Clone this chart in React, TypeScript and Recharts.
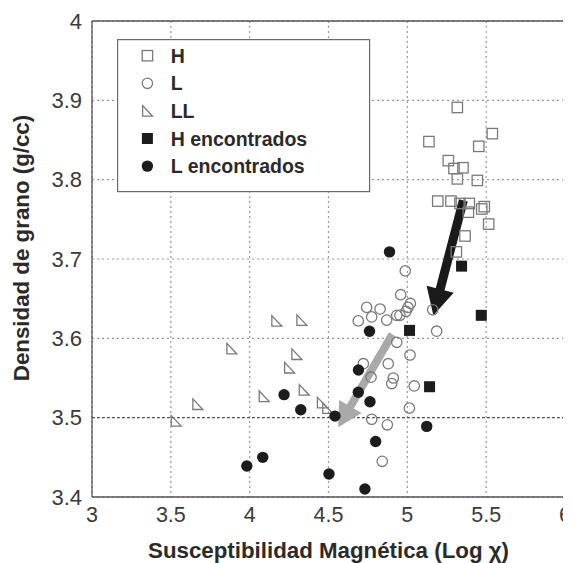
import React from 'react';
import { ScatterChart, Scatter, XAxis, YAxis, CartesianGrid, ReferenceLine, Legend } from 'recharts';

const FONT = '"Liberation Sans", Arial, Helvetica, sans-serif';

const seriesNames = ['H', 'L', 'LL', 'H encontrados', 'L encontrados'];
const xTitle = 'Susceptibilidad Magnética (Log χ)';
const yTitle = 'Densidad de grano (g/cc)';

const xTicks = [3, 3.5, 4, 4.5, 5, 5.5, 6];
const yTicks = [3.4, 3.5, 3.6, 3.7, 3.8, 3.9, 4];
const xMinorTicks = [3.1, 3.2, 3.3, 3.4, 3.5, 3.6, 3.7, 3.8, 3.9, 4.0, 4.1, 4.2, 4.3, 4.4, 4.5, 4.6, 4.7, 4.8, 4.9, 5.0, 5.1, 5.2, 5.3, 5.4, 5.5, 5.6, 5.7, 5.8, 5.9];
const yMinorTicks = [3.42, 3.44, 3.46, 3.48, 3.5, 3.52, 3.54, 3.56, 3.58, 3.6, 3.62, 3.64, 3.66, 3.68, 3.7, 3.72, 3.74, 3.76, 3.78, 3.8, 3.82, 3.84, 3.86, 3.88, 3.9, 3.92, 3.94, 3.96, 3.98];

const hPoints = [
  { x: 5.317, y: 3.891 }, { x: 5.539, y: 3.858 }, { x: 5.137, y: 3.848 }, { x: 5.453, y: 3.842 },
  { x: 5.26, y: 3.824 }, { x: 5.296, y: 3.814 }, { x: 5.353, y: 3.815 }, { x: 5.317, y: 3.801 },
  { x: 5.444, y: 3.799 }, { x: 5.193, y: 3.773 }, { x: 5.277, y: 3.773 }, { x: 5.334, y: 3.77 },
  { x: 5.393, y: 3.77 }, { x: 5.387, y: 3.759 }, { x: 5.472, y: 3.763 }, { x: 5.488, y: 3.766 },
  { x: 5.516, y: 3.744 }, { x: 5.366, y: 3.729 }, { x: 5.311, y: 3.709 },
];

const lPoints = [
  { x: 4.987, y: 3.685 }, { x: 4.958, y: 3.655 }, { x: 5.019, y: 3.644 }, { x: 5.004, y: 3.639 },
  { x: 4.992, y: 3.634 }, { x: 4.742, y: 3.639 }, { x: 4.827, y: 3.637 }, { x: 4.774, y: 3.627 },
  { x: 4.689, y: 3.622 }, { x: 4.869, y: 3.623 }, { x: 4.933, y: 3.629 }, { x: 4.953, y: 3.629 },
  { x: 5.161, y: 3.636 }, { x: 5.186, y: 3.609 }, { x: 4.933, y: 3.595 }, { x: 5.017, y: 3.579 },
  { x: 4.879, y: 3.568 }, { x: 4.721, y: 3.568 }, { x: 4.911, y: 3.55 }, { x: 4.901, y: 3.543 },
  { x: 5.044, y: 3.54 }, { x: 4.774, y: 3.498 }, { x: 4.873, y: 3.491 }, { x: 4.841, y: 3.445 },
  { x: 5.013, y: 3.512 }, { x: 4.77, y: 3.551 },
];

const llPoints = [
  { x: 3.533, y: 3.496 }, { x: 3.67, y: 3.517 }, { x: 3.886, y: 3.587 }, { x: 4.091, y: 3.527 },
  { x: 4.171, y: 3.622 }, { x: 4.33, y: 3.623 }, { x: 4.298, y: 3.58 }, { x: 4.252, y: 3.563 },
  { x: 4.345, y: 3.535 }, { x: 4.46, y: 3.519 }, { x: 4.494, y: 3.512 },
];

const hFoundPoints = [
  { x: 5.344, y: 3.691 }, { x: 5.469, y: 3.629 }, { x: 5.014, y: 3.61 }, { x: 5.141, y: 3.539 },
];

const lFoundPoints = [
  { x: 4.887, y: 3.709 }, { x: 4.76, y: 3.609 }, { x: 4.69, y: 3.56 }, { x: 4.689, y: 3.532 },
  { x: 4.763, y: 3.52 }, { x: 4.218, y: 3.529 }, { x: 4.324, y: 3.51 }, { x: 4.541, y: 3.502 },
  { x: 4.799, y: 3.47 }, { x: 5.123, y: 3.489 }, { x: 3.982, y: 3.439 }, { x: 4.083, y: 3.45 },
  { x: 4.503, y: 3.429 }, { x: 4.731, y: 3.41 },
];

const blackArrow = [{ x: 5.355, y: 3.774 }, { x: 5.165, y: 3.629 }];
const grayArrow = [{ x: 4.905, y: 3.605 }, { x: 4.562, y: 3.488 }];

const OPEN = '#7a7a7a';
const FILLED = '#1c1c1c';

const drawMarker = (kind: string, cx: number, cy: number) => {
  switch (kind) {
    case 'H':
      return <rect x={cx - 5.2} y={cy - 5.2} width={10.4} height={10.4} fill="none" stroke={OPEN} strokeWidth={1.3} />;
    case 'L':
      return <circle cx={cx} cy={cy} r={5.2} fill="none" stroke={OPEN} strokeWidth={1.3} />;
    case 'LL':
      return (
        <polygon
          points={`${cx - 4.8},${cy - 5.3} ${cx - 4.8},${cy + 5.3} ${cx + 5.2},${cy + 5.3}`}
          fill="none"
          stroke={OPEN}
          strokeWidth={1.3}
          strokeLinejoin="miter"
        />
      );
    case 'H encontrados':
      return <rect x={cx - 5.5} y={cy - 5.5} width={11} height={11} fill={FILLED} />;
    default:
      return <circle cx={cx} cy={cy} r={5.7} fill={FILLED} />;
  }
};

const shapeFor = (kind: string) => (props: any) => {
  const { cx, cy } = props;
  if (cx == null || cy == null) return <g />;
  return drawMarker(kind, cx, cy);
};

const makeArrow = (color: string, shaft: number, headLen: number, headHalf: number) => (props: any) => {
  const { x1, y1, x2, y2 } = props;
  if ([x1, y1, x2, y2].some((v) => v == null || isNaN(v))) return <g />;
  const dx = x2 - x1;
  const dy = y2 - y1;
  const len = Math.hypot(dx, dy);
  const ux = dx / len;
  const uy = dy / len;
  const px = -uy;
  const py = ux;
  const bx = x2 - ux * headLen;
  const by = y2 - uy * headLen;
  return (
    <g>
      <line x1={x1} y1={y1} x2={bx + ux * 2} y2={by + uy * 2} stroke={color} strokeWidth={shaft} />
      <polygon
        points={`${x2},${y2} ${bx + px * headHalf},${by + py * headHalf} ${bx - px * headHalf},${by - py * headHalf}`}
        fill={color}
      />
    </g>
  );
};

const renderLegend = () => (
  <svg width={254} height={154} style={{ display: 'block' }}>
    <rect x={0.6} y={0.6} width={252} height={152} fill="#ffffff" stroke="#6a6a6a" strokeWidth={1.2} />
    {seriesNames.map((name, i) => {
      const cy = 16.7 + i * 27.6;
      return (
        <g key={`leg-${i}`}>
          {drawMarker(name, 30.4, cy)}
          <text x={53.7} y={cy} dy="0.36em" fontFamily={FONT} fontWeight="bold" fontSize={19.5} fill="#2a2a2a">
            {name}
          </text>
        </g>
      );
    })}
  </svg>
);

const seriesData = [hPoints, lPoints, llPoints, hFoundPoints, lFoundPoints];

export default function App() {
  return (
    <div>
      <style>{'html,body{overflow:hidden;}'}</style>
      <ScatterChart
        width={563}
        height={555}
        margin={{ top: 13, right: 6, left: 0, bottom: 0 }}
        style={{ fontFamily: FONT }}
      >
        <CartesianGrid stroke="#9a9a9a" strokeDasharray="2 3" strokeWidth={1.2} />
        <XAxis
          type="number"
          dataKey="x"
          domain={[3, 6]}
          ticks={xTicks}
          interval={0}
          allowDataOverflow
          height={66}
          axisLine={{ stroke: '#555', strokeWidth: 1.3 }}
          tickLine={false}
          tickSize={6}
          tickMargin={4}
          tick={{ fontSize: 21.5, fill: '#3a3a3a', fontFamily: FONT }}
          label={{
            value: xTitle,
            position: 'insideBottom',
            offset: 5,
            fontSize: 22.3,
            fontWeight: 'bold',
            fill: '#2a2a2a',
            fontFamily: FONT,
          }}
        />
        <XAxis
          xAxisId="bm"
          type="number"
          dataKey="x"
          orientation="bottom"
          mirror
          domain={[3, 6]}
          ticks={xMinorTicks}
          interval={0}
          allowDataOverflow
          axisLine={false}
          tickLine={{ stroke: '#555', strokeWidth: 1 }}
          tickSize={4}
          tick={false}
        />
        <XAxis
          xAxisId="top"
          type="number"
          dataKey="x"
          orientation="top"
          mirror
          domain={[3, 6]}
          ticks={xMinorTicks}
          interval={0}
          allowDataOverflow
          axisLine={{ stroke: '#555', strokeWidth: 1.3 }}
          tickLine={{ stroke: '#555', strokeWidth: 1 }}
          tickSize={4}
          tick={false}
        />
        <YAxis
          type="number"
          dataKey="y"
          domain={[3.4, 4]}
          ticks={yTicks}
          interval={0}
          allowDataOverflow
          width={84}
          axisLine={{ stroke: '#555', strokeWidth: 1.3 }}
          tickLine={false}
          tickSize={6}
          tickMargin={4}
          tick={{ fontSize: 22, fill: '#3a3a3a', fontFamily: FONT }}
          label={{
            value: yTitle,
            content: () => (
              <text
                x={20.5}
                y={240}
                transform="rotate(-90 20.5 240)"
                textAnchor="middle"
                fontFamily={FONT}
                fontWeight="bold"
                fontSize={22.3}
                fill="#2a2a2a"
              >
                {yTitle}
              </text>
            ),
          }}
        />
        <YAxis
          yAxisId="lm"
          type="number"
          dataKey="y"
          orientation="left"
          mirror
          domain={[3.4, 4]}
          ticks={yMinorTicks}
          interval={0}
          allowDataOverflow
          axisLine={false}
          tickLine={{ stroke: '#555', strokeWidth: 1 }}
          tickSize={4}
          tick={false}
        />
        <YAxis
          yAxisId="right"
          type="number"
          dataKey="y"
          orientation="right"
          mirror
          domain={[3.4, 4]}
          ticks={yMinorTicks}
          interval={0}
          allowDataOverflow
          axisLine={{ stroke: '#555', strokeWidth: 1.3 }}
          tickLine={{ stroke: '#555', strokeWidth: 1 }}
          tickSize={4}
          tick={false}
        />
        <ReferenceLine y={3.5} stroke="#444" strokeDasharray="3 2" strokeWidth={1} />
        {seriesNames.map((name, i) => (
          <Scatter
            key={name}
            name={name}
            data={seriesData[i]}
            shape={shapeFor(name)}
            isAnimationActive={false}
          />
        ))}
        <ReferenceLine segment={blackArrow} shape={makeArrow('#1a1a1a', 9, 27, 14)} ifOverflow="visible" />
        <ReferenceLine segment={grayArrow} shape={makeArrow('#a9a9a9', 8, 24, 13)} ifOverflow="visible" />
        <Legend
          layout="horizontal"
          verticalAlign="middle"
          align="center"
          content={renderLegend}
          wrapperStyle={{ position: 'absolute', left: 109.3, top: 31, width: 254, height: 154 }}
        />
      </ScatterChart>
    </div>
  );
}
